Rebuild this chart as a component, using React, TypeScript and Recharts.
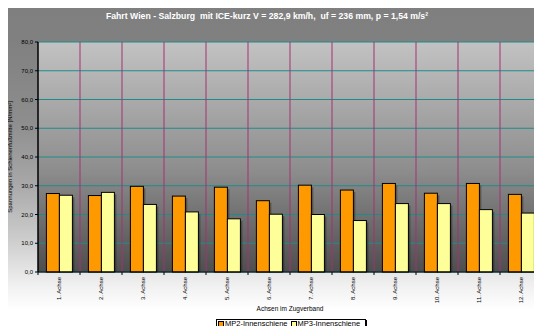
import { BarChart, Bar, XAxis, YAxis, CartesianGrid, Legend } from 'recharts'

const axles = ['1. Achse', '2. Achse', '3. Achse', '4. Achse', '5. Achse', '6. Achse', '7. Achse', '8. Achse', '9. Achse', '10. Achse', '11. Achse', '12. Achse']
const mp2Innen = [27.3, 26.6, 29.8, 26.4, 29.5, 24.8, 30.2, 28.5, 30.8, 27.4, 30.8, 27.0]
const mp3Innen = [26.7, 27.7, 23.5, 20.9, 18.5, 20.1, 20.0, 17.9, 23.8, 23.8, 21.7, 20.5]
const yTicks = [0, 10, 20, 30, 40, 50, 60, 70, 80]

const rows = axles.map((a, i) => ({ axle: a, mp2: mp2Innen[i], mp3: mp3Innen[i] }))

const FONT = '"Liberation Sans", Arial, sans-serif'
const W = 542
const H = 334
const HALF_BAND = 21
const TICK_GAP = 5

const fmt = (v: number) => v.toFixed(1).replace('.', ',')

// bar with a soft drop shadow to the lower right
function ShadowBar(props: any) {
  const { x, y, width, height, fill } = props
  if (!height || height <= 0) return null
  return (
    <g>
      <rect x={x + 2} y={y + 2} width={width} height={height - 2} fill="rgba(0,0,0,0.3)" />
      <rect x={x} y={y} width={width} height={height} fill={fill} stroke="#000" strokeWidth={1} />
    </g>
  )
}

// rotated axle label plus a short tick on the left band boundary
function AxleTick({ x, y, payload }: any) {
  const axisY = y - TICK_GAP
  return (
    <g>
      <line x1={x - HALF_BAND} x2={x - HALF_BAND} y1={axisY} y2={axisY + 3} stroke="#000" />
      <text
        transform={`translate(${x + 2},${y}) rotate(-90)`}
        textAnchor="end"
        fontSize={6}
        fontFamily={FONT}
        fill="#000"
      >
        {payload.value}
      </text>
    </g>
  )
}

function YTitle({ viewBox }: any) {
  const cy = viewBox ? viewBox.y + viewBox.height / 2 : 157
  return (
    <text transform={`translate(12,${cy}) rotate(-90)`} textAnchor="middle" fontSize={6} fontFamily={FONT} fill="#000">
      Spannungen in Schienenfußmitte [N/mm²]
    </text>
  )
}

function XTitle({ viewBox }: any) {
  const cx = viewBox ? viewBox.x + viewBox.width / 2 : 290
  return (
    <text x={cx} y={311} textAnchor="middle" fontSize={6.5} fontFamily={FONT} fill="#000">
      Achsen im Zugverband
    </text>
  )
}

function LegendBox({ payload }: any) {
  return (
    <div
      style={{
        display: 'flex',
        width: 'fit-content',
        alignItems: 'center',
        boxSizing: 'border-box',
        background: '#fff',
        border: '1px solid #000',
        boxShadow: '1px 1px 0 #000',
        padding: '0 2px 0 1px',
        height: 10,
        fontFamily: FONT,
        fontSize: 7.5,
        lineHeight: '8px',
        color: '#000',
        whiteSpace: 'nowrap',
      }}
    >
      {(payload ?? []).map((p: any) => (
        <span key={p.value} style={{ display: 'flex', alignItems: 'center', marginRight: 3 }}>
          <span style={{ width: 4, height: 4, background: p.color, border: '1px solid #000', marginRight: 1 }} />
          <span>{p.value}</span>
        </span>
      ))}
    </div>
  )
}

// category boundaries: right edge of every band
function boundaries({ offset }: any) {
  const band = offset.width / axles.length
  return axles.map((_, i) => offset.left + (i + 1) * band)
}

export default function App() {
  return (
    <div
      style={{
        position: 'relative',
        width: W,
        height: H,
        margin: -8,
        background:
          'linear-gradient(#7f7f7f 0px, #808080 40px, #8d8d8d 120px, #a6a6a6 180px, #cdcdcd 240px, #f0f0f0 285px, #ffffff 310px)',
      }}
    >
      <div
        style={{
          position: 'absolute',
          top: 11,
          left: 0,
          width: W - 8,
          textAlign: 'center',
          fontFamily: FONT,
          fontSize: 8.7,
          fontWeight: 'bold',
          color: '#fff',
        }}
      >
        Fahrt Wien - Salzburg&nbsp; mit ICE-kurz V = 282,9 km/h,&nbsp; uf = 236 mm, p = 1,54 m/s²
      </div>
      <BarChart
        width={W}
        height={H}
        data={rows}
        margin={{ top: 42, right: 0, bottom: 4, left: 0 }}
        barCategoryGap="20%"
        barGap={0}
        style={{ position: 'absolute', top: 0, left: 0 }}
      >
        <defs>
          <linearGradient id="plotBg" x1="0" y1="0" x2="0" y2="1">
            <stop offset="0%" stopColor="#c2c2c2" />
            <stop offset="55%" stopColor="#8e8e8e" />
            <stop offset="100%" stopColor="#4e4e4e" />
          </linearGradient>
        </defs>
        <CartesianGrid fill="url(#plotBg)" fillOpacity={1} stroke="#1f8c8c" vertical={false} />
        <CartesianGrid horizontal={false} stroke="#a33372" verticalCoordinatesGenerator={boundaries} />
        <XAxis
          dataKey="axle"
          height={48}
          interval={0}
          axisLine={{ stroke: '#000' }}
          tickLine={false}
          tickSize={0}
          tickMargin={TICK_GAP}
          tick={<AxleTick />}
          label={<XTitle />}
        />
        <YAxis
          width={38}
          domain={[0, 80]}
          ticks={yTicks}
          tickFormatter={fmt}
          tickSize={3}
          axisLine={{ stroke: '#000', strokeWidth: 1.5 }}
          tickLine={{ stroke: '#000' }}
          tick={{ fontSize: 6, fontFamily: FONT, fill: '#000' }}
          label={<YTitle />}
        />
        <Legend
          verticalAlign="bottom"
          content={<LegendBox />}
          wrapperStyle={{ left: 216, top: 319, bottom: 'auto', width: 'auto', lineHeight: 0 }}
        />
        <Bar dataKey="mp2" name="MP2-Innenschiene" fill="#ff9900" shape={ShadowBar} isAnimationActive={false} />
        <Bar dataKey="mp3" name="MP3-Innenschiene" fill="#ffff99" shape={ShadowBar} isAnimationActive={false} />
      </BarChart>
    </div>
  )
}
